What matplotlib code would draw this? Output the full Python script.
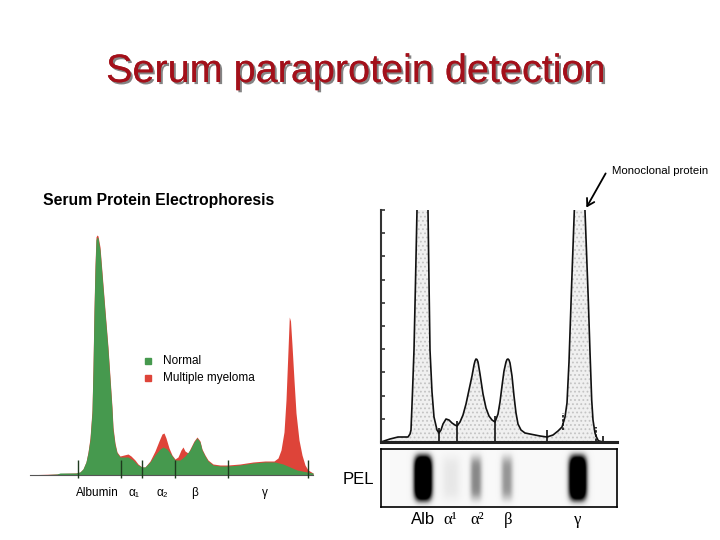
import numpy as np
import matplotlib.pyplot as plt
import matplotlib.patheffects as pe

plt.rcParams['font.family'] = ['Liberation Sans', 'DejaVu Sans']

W, H = 720, 540

# left panel: scan position vs. density above baseline
normal_x = [30, 38, 57, 60, 76, 80, 83, 86, 88, 90, 92, 93, 94, 95, 96, 97, 98, 100, 102, 105,
            108, 110, 112, 113, 115, 117, 120, 124, 128, 133, 138, 142, 145, 150, 155, 160, 163,
            167, 170, 175, 180, 185, 190, 194, 197, 200, 202, 205, 208, 213, 220, 228, 240, 253,
            265, 275, 283, 290, 297, 307, 313]
normal_y = [0, 0, 1, 2, 2, 3, 6, 13, 22, 35, 62, 105, 162, 205, 235, 238, 237, 225, 200, 162,
            125, 95, 65, 45, 30, 22, 18, 18, 18, 15, 10, 8, 8, 13, 20, 26, 28,
            26, 22, 15, 15, 19, 25, 33, 37, 33, 25, 19, 14, 10, 9, 9, 10, 12,
            13, 13, 11, 8, 5, 3, 2]

myeloma_x = [30, 38, 57, 60, 76, 80, 83, 86, 88, 90, 92, 93, 94, 95, 96, 97, 98, 100, 102, 105,
             108, 110, 112, 113, 115, 117, 120, 124, 128, 131, 135, 138, 142, 145, 150, 155, 159,
             162, 164, 166, 169, 172, 175, 178, 181, 183, 185, 188, 191, 194, 197, 200, 202, 205,
             208, 213, 220, 228, 240, 253, 265, 274, 278, 281, 284, 286, 288, 289.3, 290.5, 292,
             294, 296, 299, 302, 305, 308, 313]
myeloma_y = [0, 0.5, 1, 1.5, 2, 3, 6, 13, 23, 37, 65, 108, 166, 210, 238, 240, 239, 228, 203, 165,
             128, 98, 68, 48, 32, 23, 19, 20, 21, 19, 15, 11, 8, 8, 14, 24, 34,
             41, 42, 37, 27, 20, 16, 18, 25, 28, 24, 22, 28, 34, 38, 34, 26, 20,
             15, 11, 10, 10, 11, 13, 14, 14, 17, 25, 43, 75, 125, 158, 154, 130,
             95, 62, 35, 20, 10, 5, 2]

fraction_bounds = [78, 121, 142, 175, 228, 308]
fraction_labels = ['Albumin', 'α₁', 'α₂', 'β', 'γ']
fraction_label_x = [97, 134, 162, 195, 265]

# right panel: densitometer trace
trace_x = [381, 390, 398, 408, 410, 411, 412.5, 414, 415.5, 417, 422.5, 428, 429, 430, 432, 434,
           437, 439, 441, 443, 446, 449, 452, 455, 457, 460, 463, 466, 469, 472, 474, 475, 476,
           477, 478, 480, 483, 486, 489, 492, 495, 498, 500, 502, 504, 506, 507, 508, 509, 510,
           512, 514, 516, 518, 521, 525, 530, 540, 547, 553, 558, 562, 565, 567, 569, 571.7,
           574.3, 580, 585, 588.3, 590, 591.7, 593, 595, 596, 598.3, 601, 604]
trace_y = [0, 3, 5, 5, 8, 12, 50, 92, 160, 232, 330, 232, 160, 92, 50, 25,
           12, 9, 12, 18, 23, 22, 19, 17, 16, 20, 27, 38, 52, 66, 77, 81, 83,
           82.5, 80, 68, 48, 34, 26, 22, 20, 28, 40, 56, 71, 80, 82.5, 83, 82, 79,
           66, 46, 29, 18, 12, 9, 8, 6, 5, 7, 11, 15, 25, 39, 80, 159,
           231, 330, 231, 142, 90, 42, 22, 9, 6, 1.3, 0.5, 0]

split_x = [439, 457, 495, 547, 603]
split_top = [14, 21, 26, 12, 6]
dash_x = [563, 596]
dash_lo = [12, 1]
dash_hi = [29, 15]

# gel bands
band_pos = [423, 451, 476, 507, 578]
band_strength = [1.8, 0.12, 0.5, 0.45, 1.7]
band_halfwidth = [9, 10, 6.5, 6.5, 9]
gel_labels = ['Alb', 'α¹', 'α²', 'β', 'γ']
gel_label_x = [423.5, 450, 477, 508, 578]


def fig_box(x0, y0, x1, y1):
    return [x0 / W, 1 - y1 / H, (x1 - x0) / W, (y1 - y0) / H]


fig = plt.figure(figsize=(7.2, 5.4), dpi=100)

# title
fig.text(356 / W, 1 - 82 / H, 'Serum paraprotein detection', fontsize=28.5, color='#a3101a',
         ha='center', va='baseline',
         path_effects=[pe.withSimplePatchShadow(offset=(1.5, -1.5), shadow_rgbFace='#333333', alpha=0.6),
                       pe.Normal()])

# left panel
axL = fig.add_axes(fig_box(25, 225, 320, 480))
axL.set_xlim(25, 320)
axL.set_ylim(-5, 250)
axL.axis('off')
axL.fill_between(myeloma_x, myeloma_y, color='#de4439', lw=0)
axL.fill_between(normal_x, normal_y, color='#46994e', lw=0)
axL.plot([30, 313], [0, 0], color='#555555', lw=0.8)
axL.vlines(fraction_bounds, -3, 15, color='#1e3a1e', lw=1)
for lab, x in zip(fraction_labels, fraction_label_x):
    axL.text(x, -18, lab, ha='center', va='center', fontsize=8.5, clip_on=False)
axL.plot(148, 114, 's', color='#46994e', ms=5)
axL.plot(148, 97, 's', color='#de4439', ms=5)
axL.text(163, 114, 'Normal', fontsize=8.5, va='center')
axL.text(163, 97, 'Multiple myeloma', fontsize=8.5, va='center')
fig.text(43 / W, 1 - 201 / H, 'Serum Protein Electrophoresis', fontsize=11.3,
         fontweight='bold', ha='left', va='center')

# right panel
axR = fig.add_axes(fig_box(381, 210, 617, 442))
axR.set_xlim(381, 617)
axR.set_ylim(0, 232)
for s in ['top', 'right']:
    axR.spines[s].set_visible(False)
axR.spines['left'].set_linewidth(1.5)
axR.spines['left'].set_color('#333333')
axR.spines['bottom'].set_linewidth(2.2)
axR.spines['bottom'].set_color('#222222')
axR.set_xticks([])
axR.set_yticks(np.linspace(0, 232, 11))
axR.tick_params(axis='y', direction='in', length=3, width=1.2, color='#333333', labelleft=False)
plt.rcParams['hatch.color'] = '#c4c4c4'
plt.rcParams['hatch.linewidth'] = 0.8
axR.fill_between(trace_x, trace_y, facecolor='#f0f0f0', hatch='....', edgecolor='#c4c4c4', lw=0)
axR.plot(trace_x, trace_y, color='#111111', lw=1.2)
axR.vlines(split_x, 0, split_top, color='#111111', lw=1.2)
axR.vlines(dash_x, dash_lo, dash_hi, color='#111111', lw=1.2, linestyles=(0, (1.5, 1)))
axR.annotate('', xy=(585, 232), xytext=(607, 271),
             arrowprops=dict(arrowstyle='->,head_length=0.5,head_width=0.3', lw=1.3, color='k'),
             annotation_clip=False)
fig.text(612 / W, 1 - 171 / H, 'Monoclonal protein', fontsize=8.2, va='center', ha='left')

# gel strip
axG = fig.add_axes(fig_box(381, 449, 617, 507))
gx = np.linspace(381, 617, 472)
gy = np.linspace(0, 58, 116)
X, Y = np.meshgrid(gx, gy)
img = np.full(X.shape, 0.05)
for c, s, hw in zip(band_pos, band_strength, band_halfwidth):
    img += s * np.exp(-np.abs((X - c) / hw) ** 3) * np.exp(-np.abs((Y - 29) / 23) ** 5)
img = np.clip(img, 0, 1)
axG.imshow(img, extent=(381, 617, 0, 58), cmap='Greys', vmin=0, vmax=1, aspect='auto',
           interpolation='bilinear')
axG.set_xlim(381, 617)
axG.set_xticks([])
axG.set_yticks([])
for s in axG.spines.values():
    s.set_linewidth(1.2)

fig.text(358 / W, 1 - 479 / H, 'PEL', fontsize=12, ha='center', va='center')
for lab, x in zip(gel_labels, gel_label_x):
    fam = ['Liberation Sans'] if lab == 'Alb' else ['Liberation Serif', 'DejaVu Serif']
    fig.text(x / W, 1 - 520 / H, lab, fontsize=12, ha='center', va='center', family=fam)

fig.savefig('out.png', dpi=100)
